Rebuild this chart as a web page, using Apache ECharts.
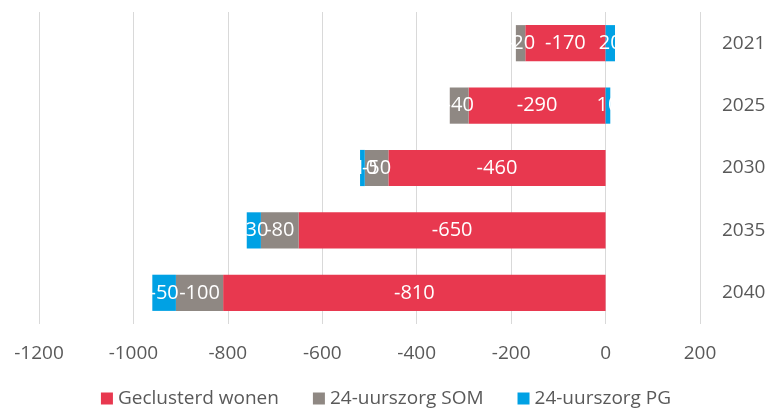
<!DOCTYPE html>
<html>
<head>
<meta charset="utf-8">
<script src="https://cdn.jsdelivr.net/npm/echarts@6/dist/echarts.min.js"></script>
<style>
  html, body { margin: 0; padding: 0; background: #fff; }
  #chart { width: 772px; height: 413px; }
</style>
</head>
<body>
<div id="chart"></div>
<script>
const years = ['2021', '2025', '2030', '2035', '2040']
const geclusterd = [-170, -290, -460, -650, -810]
const som = [-20, -40, -50, -80, -100]
const pg = [20, 10, -10, -30, -50]

const chart = echarts.init(document.getElementById('chart'))

const font = 'Open Sans, Liberation Sans, sans-serif'
const barLabel = {
  show: true,
  color: '#fff',
  fontSize: 20,
  fontFamily: font,
}

const option = {
  animation: false,
  grid: { left: 39, right: 72, top: 12, bottom: 89 },
  legend: {
    bottom: 0,
    left: 'center',
    icon: 'rect',
    itemWidth: 12,
    itemHeight: 12,
    itemGap: 34,
    textStyle: { color: '#595959', fontSize: 19, fontFamily: font },
    data: ['Geclusterd wonen', '24-uurszorg SOM', '24-uurszorg PG'],
  },
  xAxis: {
    type: 'value',
    min: -1200,
    max: 200,
    interval: 200,
    axisLine: { show: false },
    axisTick: { show: false },
    axisLabel: {
      color: '#595959', fontSize: 19, fontFamily: font, margin: 20,
      formatter: v => String(v),
    },
    splitLine: { lineStyle: { color: '#d9d9d9', width: 1 } },
  },
  yAxis: {
    type: 'category',
    data: years,
    inverse: true,
    position: 'right',
    axisLine: { show: false },
    axisTick: { show: false },
    axisLabel: { color: '#595959', fontSize: 19, fontFamily: font, margin: 22 },
  },
  series: [
    {
      name: 'Geclusterd wonen', type: 'bar', stack: 'tot',
      data: geclusterd, barWidth: '58%',
      itemStyle: { color: '#E8384F' },
      label: barLabel,
    },
    {
      name: '24-uurszorg SOM', type: 'bar', stack: 'tot',
      data: som,
      itemStyle: { color: '#8F8883' },
      label: barLabel,
    },
    {
      name: '24-uurszorg PG', type: 'bar', stack: 'tot',
      data: pg,
      itemStyle: { color: '#00A1E4' },
      label: barLabel,
    },
  ],
}

chart.setOption(option)
</script>
</body>
</html>
